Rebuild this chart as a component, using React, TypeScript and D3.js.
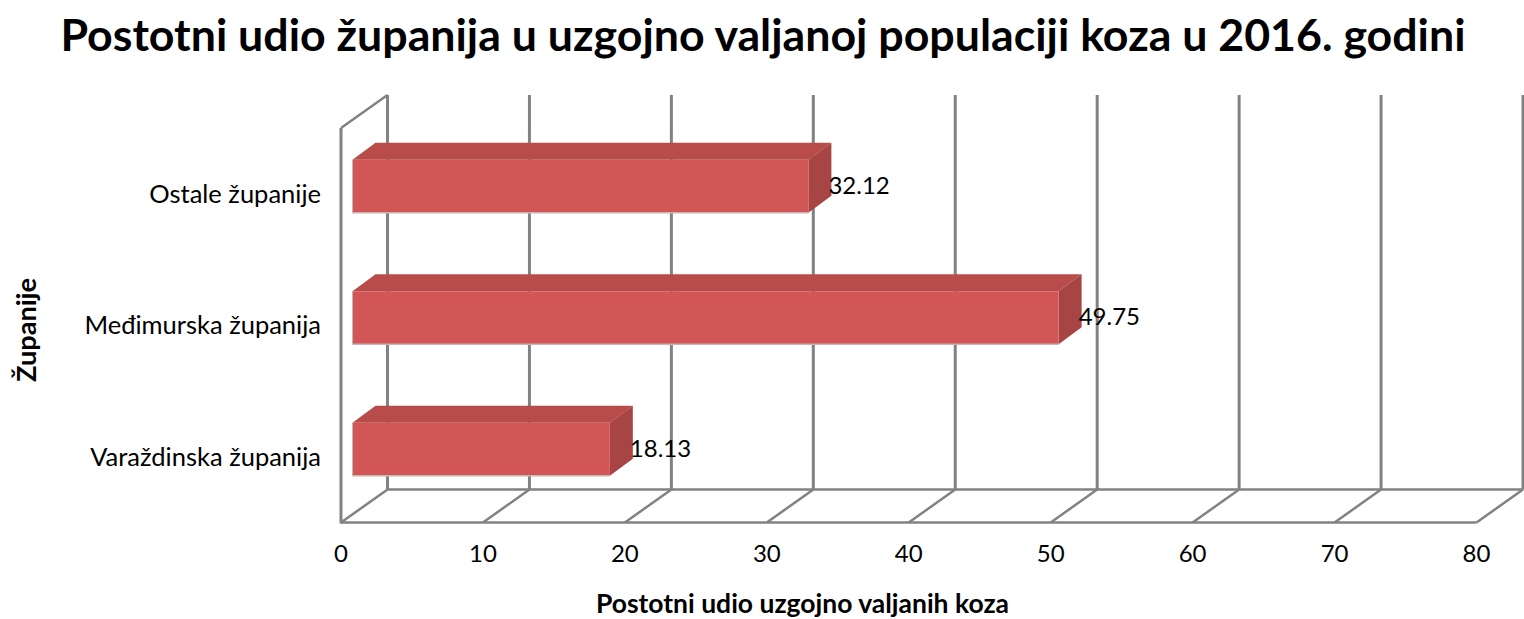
import React from "react";
import * as d3 from "d3";

const categories = ["Ostale županije", "Međimurska županija", "Varaždinska županija"];
const values = [32.12, 49.75, 18.13];
const valueLabels = ["32.12", "49.75", "18.13"];
const xTicks = [0, 10, 20, 30, 40, 50, 60, 70, 80];
const titleText = "Postotni udio županija u uzgojno valjanoj populaciji koza u 2016. godini";
const xAxisTitle = "Postotni udio uzgojno valjanih koza";
const yAxisTitle = "Županije";

const FONT = "Lato, 'Noto Sans', sans-serif";
const GRID = "#828282";
const FRONT = "#d25656";
const TOP = "#b74c4a";
const SIDE = "#a64543";

export default function App() {
  const x = d3.scaleLinear().domain([0, 80]).range([341, 1476.5]);
  const y = d3.scaleBand<string>().domain(categories).range([128, 522.5]);
  const wallDx = 46.5, wallDy = -33;
  const barDx = 23, barDy = -17;
  const inset = 11.5;
  const barH = 53;
  const floorY = y.range()[1];
  const topY = y.range()[0];
  const x0 = x(0);
  const bx0 = x0 + inset;

  return (
    <svg width={1524} height={619} style={{ position: "absolute", left: 0, top: 0 }} fontFamily={FONT}>
      <rect width={1524} height={619} fill="#fff" />
      <text x={763} y={51} textAnchor="middle" fontSize={44} fontWeight={700} fill="#000" textLength={1405} lengthAdjust="spacingAndGlyphs">{titleText}</text>

      {/* back gridlines */}
      {xTicks.map((t) => (
        <line key={"g" + t} x1={x(t) + wallDx} x2={x(t) + wallDx} y1={topY + wallDy} y2={floorY + wallDy} stroke={GRID} strokeWidth={3} />
      ))}
      {/* floor diagonals */}
      {xTicks.map((t) => (
        <line key={"d" + t} x1={x(t)} y1={floorY} x2={x(t) + wallDx} y2={floorY + wallDy} stroke={GRID} strokeWidth={2.5} />
      ))}
      <line x1={x(0) + wallDx} x2={x(80) + wallDx} y1={floorY + wallDy} y2={floorY + wallDy} stroke={GRID} strokeWidth={2.5} />
      <line x1={x(0)} x2={x(80)} y1={floorY} y2={floorY} stroke={GRID} strokeWidth={2.5} />
      {/* side wall */}
      <line x1={x0} x2={x0} y1={topY} y2={floorY + 1} stroke={GRID} strokeWidth={3} />
      <line x1={x0} y1={topY} x2={x0 + wallDx} y2={topY + wallDy} stroke={GRID} strokeWidth={2.5} />

      {/* bars */}
      {categories.map((c, i) => {
        const cy = y(c)! + y.bandwidth() / 2;
        const top = cy - barH / 2 - 7.5;
        const bot = top + barH;
        const right = x(values[i]) + inset;
        return (
          <g key={c}>
            <path d={`M${bx0},${top}L${bx0 + barDx},${top + barDy}L${right + barDx},${top + barDy}L${right},${top}Z`} fill={TOP} />
            <path d={`M${right},${top}L${right + barDx},${top + barDy}L${right + barDx},${bot + barDy}L${right},${bot}Z`} fill={SIDE} />
            <rect x={bx0} y={top} width={right - bx0} height={barH} fill={FRONT} />
            <line x1={bx0} x2={right} y1={bot} y2={bot} stroke="#c9b3b3" strokeWidth={1.5} />
            <line x1={bx0} x2={bx0} y1={top} y2={bot} stroke="#c9b3b3" strokeWidth={1} />
            <text x={right + 20} y={top + 34} fontSize={24} fill="#000">{valueLabels[i]}</text>
            <text x={321} y={top + 43} textAnchor="end" fontSize={25.5} fill="#000">{c}</text>
          </g>
        );
      })}

      {xTicks.map((t) => (
        <text key={"t" + t} x={x(t)} y={562} textAnchor="middle" fontSize={24} fill="#000">{t}</text>
      ))}
      <text x={802.5} y={613} textAnchor="middle" fontSize={26.5} fontWeight={700} fill="#000" textLength={413} lengthAdjust="spacingAndGlyphs">{xAxisTitle}</text>
      <text transform="translate(36,330) rotate(-90)" textAnchor="middle" fontSize={26.5} fontWeight={700} fill="#000" textLength={104} lengthAdjust="spacingAndGlyphs">{yAxisTitle}</text>
    </svg>
  );
}
